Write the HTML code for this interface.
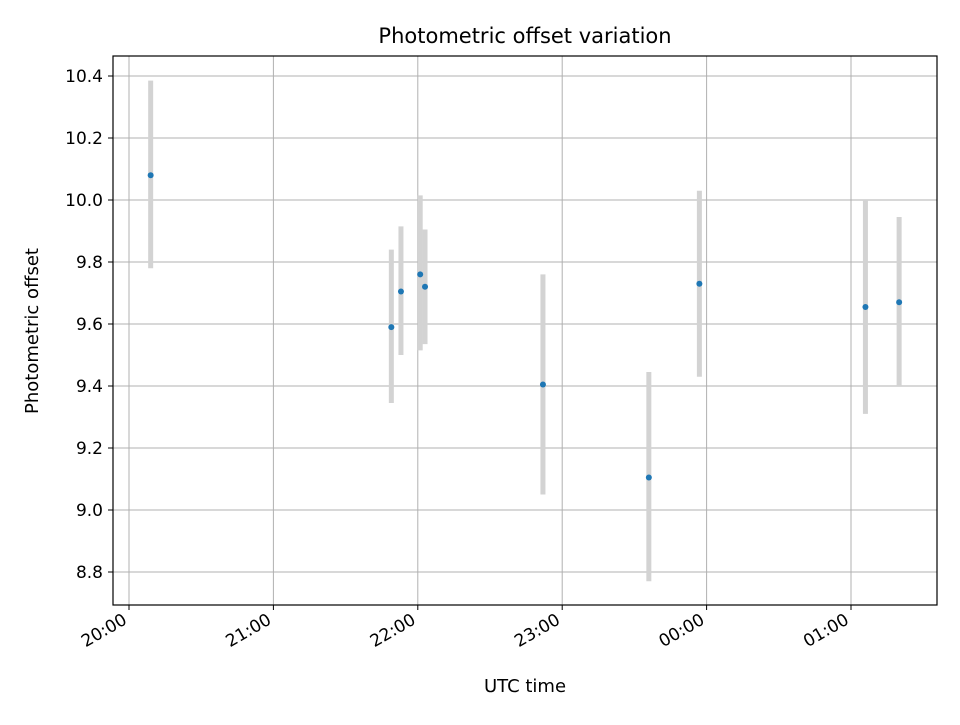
<!DOCTYPE html>
<html><head><meta charset="utf-8"><style>
body{margin:0;background:#fff;}
svg text{font-family:"DejaVu Sans","Liberation Sans",sans-serif;fill:#000;}
</style></head><body>
<svg id="chart" width="960" height="720" xmlns="http://www.w3.org/2000/svg">
<rect width="960" height="720" fill="#fff"/>
<g id="grid"></g>
<g id="errs"></g>
<g id="pts"></g>
<g id="axes"></g>
<rect x="113" y="56" width="824" height="549" fill="none" stroke="#000" stroke-width="1.2"/>
<text x="525" y="43" font-size="21" text-anchor="middle">Photometric offset variation</text>
<text x="525" y="692" font-size="18" text-anchor="middle">UTC time</text>
<text x="38" y="331" font-size="18" text-anchor="middle" transform="rotate(-90 38 331)">Photometric offset</text>
</svg>
<script>
// minutes after 20:00
const times=[9,109,113,121,123,172,216,237,306,320];
const values=[10.08,9.59,9.705,9.76,9.72,9.405,9.105,9.73,9.655,9.67];
const lowers=[9.78,9.345,9.50,9.515,9.535,9.05,8.77,9.43,9.31,9.40];
const uppers=[10.385,9.84,9.915,10.015,9.905,9.76,9.445,10.03,10.0,9.945];
const yTicks=[8.8,9.0,9.2,9.4,9.6,9.8,10.0,10.2,10.4];
const xTicks=[0,60,120,180,240,300];
const xLabels=["20:00","21:00","22:00","23:00","00:00","01:00"];
const NS="http://www.w3.org/2000/svg";
const X=m=>129+m*144.4/60;
const Y=v=>76+(10.4-v)*310;
function mk(t,a,p){const e=document.createElementNS(NS,t);for(const k in a)e.setAttribute(k,a[k]);p.appendChild(e);return e;}
const grid=document.getElementById('grid'),axes=document.getElementById('axes'),errs=document.getElementById('errs'),pts=document.getElementById('pts');
yTicks.forEach(v=>{
 const y=Y(v);
 const l=mk('line',{x1:113,x2:937,y1:y,y2:y,stroke:'#b0b0b0','stroke-width':1},grid);
 
 
 mk('line',{x1:108,x2:113,y1:y,y2:y,stroke:'#000'},axes);
 const t=mk('text',{x:103,y:y+6,'font-size':17,'text-anchor':'end'},axes);
 t.textContent=v.toFixed(1);
 
 
});
xTicks.forEach((m,i)=>{
 const x=X(m);
 const l=mk('line',{x1:x,x2:x,y1:56,y2:605,stroke:'#b0b0b0','stroke-width':1},grid);
 
 
 mk('line',{x1:x,x2:x,y1:605,y2:610,stroke:'#000'},axes);
 const t=mk('text',{x:x-1,y:623,'font-size':17,'text-anchor':'end',transform:`rotate(-30 ${x-1} 623)`},axes);
 t.textContent=xLabels[i];
 
 
});
times.forEach((m,i)=>{
 const x=X(m);
 const e=mk('line',{x1:x,x2:x,y1:Y(uppers[i]),y2:Y(lowers[i]),stroke:'#d3d3d3','stroke-width':5},errs);
 
 
 const c=mk('circle',{cx:x,cy:Y(values[i]),r:3,fill:'#1f77b4'},pts);
 
 
});
</script>
</body></html>
